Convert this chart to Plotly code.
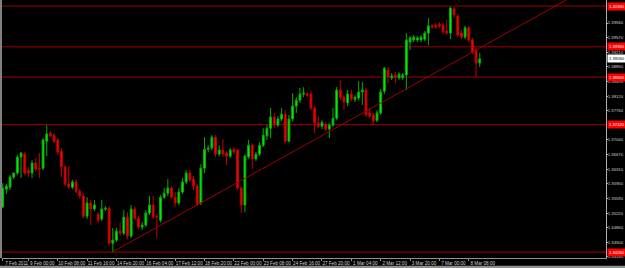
import plotly.graph_objects as go

# ---- data (EURUSD H4) ----
opens = [1.3538,1.3582,1.3587,1.3612,1.3622,1.3662,1.3669,1.3629,1.3622,1.3647,
         1.3634,1.3634,1.3701,1.3721,1.3716,1.3704,1.3676,1.3637,1.3595,1.3587,
         1.3600,1.3577,1.3565,1.3515,1.3548,1.3533,1.3520,1.3508,1.3533,1.3535,
         1.3448,1.3456,1.3478,1.3473,1.3513,1.3466,1.3533,1.3510,1.3488,1.3493,
         1.3523,1.3543,1.3515,1.3505,1.3562,1.3572,1.3585,1.3562,1.3548,1.3575,
         1.3600,1.3622,1.3607,1.3590,1.3548,1.3634,1.3681,1.3684,1.3711,1.3669,
         1.3679,1.3672,1.3664,1.3681,1.3679,1.3585,1.3543,1.3662,1.3691,1.3657,
         1.3669,1.3691,1.3714,1.3733,1.3761,1.3741,1.3756,1.3768,1.3701,1.3756,
         1.3788,1.3803,1.3818,1.3818,1.3818,1.3783,1.3746,1.3738,1.3743,1.3731,
         1.3741,1.3758,1.3828,1.3810,1.3796,1.3818,1.3805,1.3808,1.3823,1.3828,
         1.3771,1.3766,1.3753,1.3771,1.3825,1.3877,1.3858,1.3865,1.3858,1.3858,
         1.3865,1.3947,1.3952,1.3952,1.3952,1.3954,1.3969,1.3987,1.3989,1.3991,
         1.3989,1.3974,1.3969,1.4029,1.4011,1.3969,1.3959,1.3982,1.3952,1.3927,
         1.3895]
highs = [1.3597,1.3595,1.3617,1.3624,1.3667,1.3674,1.3674,1.3637,1.3654,1.3659,
         1.3672,1.3709,1.3741,1.3726,1.3721,1.3709,1.3684,1.3642,1.3639,1.3605,
         1.3607,1.3582,1.3572,1.3562,1.3555,1.3555,1.3525,1.3555,1.3540,1.3540,
         1.3486,1.3486,1.3500,1.3530,1.3525,1.3543,1.3540,1.3515,1.3500,1.3530,
         1.3565,1.3565,1.3520,1.3567,1.3585,1.3607,1.3590,1.3575,1.3585,1.3610,
         1.3629,1.3629,1.3615,1.3595,1.3644,1.3711,1.3691,1.3716,1.3716,1.3691,
         1.3706,1.3676,1.3684,1.3686,1.3681,1.3590,1.3669,1.3704,1.3696,1.3674,
         1.3699,1.3733,1.3741,1.3783,1.3771,1.3763,1.3783,1.3778,1.3766,1.3820,
         1.3810,1.3833,1.3835,1.3823,1.3825,1.3788,1.3763,1.3753,1.3748,1.3746,
         1.3783,1.3835,1.3853,1.3815,1.3828,1.3828,1.3815,1.3850,1.3848,1.3833,
         1.3783,1.3771,1.3778,1.3830,1.3885,1.3885,1.3870,1.3872,1.3872,1.3870,
         1.3969,1.3962,1.3964,1.3962,1.3964,1.3974,1.4006,1.3991,1.3994,1.3996,
         1.3994,1.4001,1.4034,1.4034,1.4016,1.3977,1.3987,1.3987,1.3957,1.3932,
         1.3920]
lows = [1.3535,1.3570,1.3580,1.3607,1.3617,1.3610,1.3617,1.3612,1.3610,1.3627,
        1.3610,1.3629,1.3664,1.3711,1.3696,1.3667,1.3612,1.3590,1.3582,1.3582,
        1.3572,1.3558,1.3510,1.3508,1.3493,1.3528,1.3498,1.3503,1.3528,1.3443,
        1.3427,1.3451,1.3466,1.3468,1.3458,1.3461,1.3505,1.3483,1.3481,1.3488,
        1.3518,1.3508,1.3461,1.3500,1.3558,1.3565,1.3558,1.3538,1.3543,1.3570,
        1.3595,1.3600,1.3580,1.3540,1.3543,1.3622,1.3674,1.3679,1.3662,1.3664,
        1.3662,1.3642,1.3659,1.3669,1.3580,1.3523,1.3525,1.3657,1.3632,1.3652,
        1.3664,1.3686,1.3704,1.3709,1.3733,1.3736,1.3751,1.3696,1.3699,1.3751,
        1.3771,1.3796,1.3810,1.3810,1.3778,1.3721,1.3733,1.3731,1.3726,1.3709,
        1.3736,1.3753,1.3803,1.3778,1.3788,1.3800,1.3798,1.3803,1.3791,1.3761,
        1.3758,1.3741,1.3748,1.3766,1.3818,1.3845,1.3853,1.3845,1.3853,1.3853,
        1.3828,1.3927,1.3947,1.3947,1.3947,1.3949,1.3939,1.3979,1.3979,1.3982,
        1.3967,1.3964,1.3954,1.4006,1.3959,1.3954,1.3954,1.3947,1.3917,1.3860,
        1.3885]
closes = [1.3585,1.3590,1.3612,1.3622,1.3662,1.3672,1.3622,1.3622,1.3647,1.3632,
          1.3632,1.3704,1.3719,1.3714,1.3701,1.3674,1.3637,1.3595,1.3587,1.3600,
          1.3577,1.3565,1.3515,1.3548,1.3533,1.3543,1.3505,1.3533,1.3535,1.3448,
          1.3456,1.3478,1.3473,1.3513,1.3466,1.3533,1.3510,1.3488,1.3493,1.3523,
          1.3543,1.3513,1.3513,1.3562,1.3572,1.3585,1.3562,1.3548,1.3575,1.3600,
          1.3622,1.3605,1.3590,1.3545,1.3634,1.3681,1.3684,1.3711,1.3669,1.3679,
          1.3669,1.3664,1.3679,1.3674,1.3585,1.3543,1.3664,1.3691,1.3657,1.3669,
          1.3691,1.3716,1.3733,1.3761,1.3741,1.3756,1.3768,1.3701,1.3756,1.3788,
          1.3803,1.3818,1.3820,1.3815,1.3783,1.3746,1.3738,1.3748,1.3731,1.3741,
          1.3758,1.3828,1.3810,1.3798,1.3818,1.3805,1.3810,1.3823,1.3828,1.3766,
          1.3763,1.3751,1.3771,1.3823,1.3882,1.3860,1.3863,1.3858,1.3867,1.3865,
          1.3952,1.3957,1.3959,1.3957,1.3959,1.3969,1.3987,1.3984,1.3984,1.3987,
          1.3972,1.3969,1.4031,1.4014,1.3964,1.3959,1.3982,1.3952,1.3922,1.3895,
          1.3905]
bars = list(range(len(opens)))

time_tick_bars = [0, 7, 15, 23, 31, 39, 47, 55, 63, 71, 79, 87, 95, 103, 111, 119, 127]
time_tick_labels = ["7 Feb 2011", "9 Feb 00:00", "10 Feb 08:00", "11 Feb 16:00",
                    "14 Feb 20:00", "16 Feb 04:00", "17 Feb 12:00", "18 Feb 20:00",
                    "22 Feb 00:00", "23 Feb 08:00", "24 Feb 16:00", "27 Feb 20:00",
                    "1 Mar 04:00", "2 Mar 12:00", "3 Mar 20:00", "7 Mar 00:00",
                    "8 Mar 08:00"]

# ticks hidden behind the level labels (1.37400, 1.40300) are left out
price_ticks = [1.34140, 1.34500, 1.34860, 1.35220, 1.35590, 1.35950, 1.36310,
               1.36670, 1.37040, 1.37760, 1.38120, 1.38490, 1.38850,
               1.39210, 1.39570, 1.39940]
price_tick_labels = [f"{p:.5f}" for p in price_ticks]

level_prices = [1.40360, 1.39350, 1.38600, 1.37420, 1.34260]
current_price = 1.39050

trend_bars = [30, 170]
trend_prices = [1.3427, 1.4134]

x_range = [-0.19, 164.4]
y_range = [1.34115, 1.40510]

# ---- figure ----
FONT = "Liberation Sans, Arial, sans-serif"
FS = 4.6
FSY = 4.2

fig = go.Figure()
fig.add_trace(go.Scatter(x=trend_bars, y=trend_prices, mode="lines",
                         line=dict(color="#a00000", width=1), hoverinfo="skip"))
fig.add_trace(go.Candlestick(
    x=bars, open=opens, high=highs, low=lows, close=closes,
    increasing=dict(line=dict(color="#00b000", width=1), fillcolor="#00ff00"),
    decreasing=dict(line=dict(color="#c00000", width=1), fillcolor="#ff0000"),
    whiskerwidth=0,
))

for p in level_prices:
    fig.add_hline(y=p, line=dict(color="#a00000", width=1), layer="below")

annotations = []
for p in level_prices:
    annotations.append(dict(xref="paper", x=1, xanchor="left", xshift=1,
                            yref="y", y=p, yanchor="middle", text=f"{p:.5f}",
                            showarrow=False, bgcolor="#ff0000", borderpad=1,
                            font=dict(family=FONT, size=FSY, color="#ffffff")))
annotations.append(dict(xref="paper", x=1, xanchor="left", xshift=1,
                        yref="y", y=current_price, yanchor="middle",
                        text=f"{current_price:.5f}", showarrow=False,
                        bgcolor="#ffffff", borderpad=1,
                        font=dict(family=FONT, size=FSY, color="#000000")))

shapes = [
    dict(type="rect", xref="paper", yref="paper", x0=-0.0035, x1=0.0, y0=0, y1=1,
         fillcolor="#808080", line=dict(width=0), layer="above"),
    dict(type="rect", xref="paper", yref="paper", x0=-0.01, x1=1.04,
         y0=-0.0395, y1=-0.030, fillcolor="#909090", line=dict(width=0)),
]

fig.update_layout(
    template="none",
    width=625, height=268,
    margin=dict(l=2, r=19, t=0, b=10),
    paper_bgcolor="#000000", plot_bgcolor="#000000",
    showlegend=False,
    annotations=annotations,
    shapes=list(fig.layout.shapes) + shapes,
    font=dict(family=FONT, size=FS, color="#d0d0d0"),
)
fig.update_xaxes(range=x_range, showgrid=False, zeroline=False,
                 showline=True, linecolor="#909090", linewidth=1,
                 ticks="outside", ticklen=2, tickcolor="#909090",
                 tickvals=time_tick_bars, ticktext=time_tick_labels,
                 tickangle=0, ticklabelshift=14, ticklabelstandoff=-2,
                 tickfont=dict(family=FONT, size=FS, color="#d0d0d0"),
                 rangeslider=dict(visible=False), automargin=False)
fig.update_yaxes(range=y_range, side="right", showgrid=False, zeroline=False,
                 showline=True, linecolor="#b0b0b0", linewidth=1,
                 ticks="outside", ticklen=1, tickcolor="#b0b0b0",
                 tickvals=price_ticks, ticktext=price_tick_labels,
                 ticklabelstandoff=-1,
                 tickfont=dict(family=FONT, size=FSY, color="#d0d0d0"),
                 automargin=False)

fig.write_html("out.html")
